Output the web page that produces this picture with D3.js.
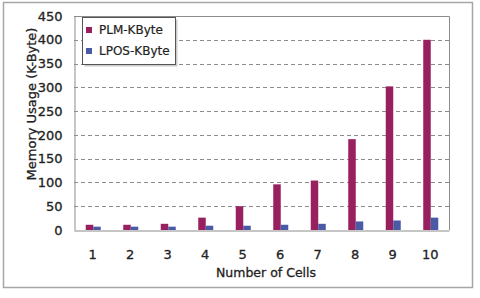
<!DOCTYPE html>
<html>
<head>
<meta charset="utf-8">
<script src="https://cdn.jsdelivr.net/npm/d3@7"></script>
<style>
  body { margin: 0; background: #fff; }
  svg text { font-family: "DejaVu Sans", sans-serif; fill: #222; }
</style>
</head>
<body>
<div id="chart"></div>
<script>
// data
var cells = ["1", "2", "3", "4", "5", "6", "7", "8", "9", "10"];
var plm  = [11, 11, 13, 26, 50, 96, 104, 191, 302, 400];
var lpos = [7, 7, 7, 9, 9, 11, 13, 18, 20, 26];
var seriesNames = ["PLM-KByte", "LPOS-KByte"];
var colors = ["#98205f", "#4a5aa5"];
var yTicks = [0, 50, 100, 150, 200, 250, 300, 350, 400, 450];

var W = 480, H = 298;
var plotL = 74, plotR = 449, plotT = 16, plotB = 230;

var svg = d3.select("#chart").append("svg")
    .attr("width", W)
    .attr("height", H);

// outer frame
svg.append("rect")
    .attr("x", 3.5).attr("y", 2.5)
    .attr("width", 469).attr("height", 285)
    .attr("fill", "#fff")
    .attr("stroke", "#a6a6a6")
    .attr("stroke-width", 1.5);

var x = d3.scaleBand().domain(cells).range([plotL, plotR]);
var y = d3.scaleLinear().domain([0, 450]).range([plotB, plotT]);

// grid
svg.append("g").selectAll("line")
    .data(yTicks.filter(function(d){ return d > 0 && d < 450; }))
    .enter().append("line")
    .attr("x1", plotL).attr("x2", plotR)
    .attr("y1", function(d){ return Math.round(y(d)) + 0.5; })
    .attr("y2", function(d){ return Math.round(y(d)) + 0.5; })
    .attr("stroke", "#8c8c8c")
    .attr("stroke-dasharray", "4,3");

// plot border (top, right)
svg.append("path")
    .attr("d", "M" + plotL + "," + (plotT + 0.5) + "H" + (plotR + 0.5) + "V" + plotB)
    .attr("fill", "none")
    .attr("stroke", "#8c8c8c");

// bars
var bw = 7.5;
var groups = [plm, lpos];
groups.forEach(function(vals, s) {
  svg.append("g").selectAll("rect")
    .data(vals)
    .enter().append("rect")
      .attr("x", function(d, i) { return x(cells[i]) + x.bandwidth() / 2 - bw + s * bw + 0.5; })
      .attr("y", function(d) { return y(d); })
      .attr("width", bw)
      .attr("height", function(d) { return y(0) - y(d); })
      .attr("fill", colors[s]);
});

// axes
var yAxis = svg.append("g")
    .attr("transform", "translate(" + (plotL + 0.5) + ",0)")
    .call(d3.axisLeft(y).tickValues(yTicks).tickSize(0).tickPadding(12));
yAxis.select(".domain").attr("stroke", "#8c8c8c");
yAxis.selectAll("text")
    .style("font-size", "13px")
    .attr("fill", "#222")
    .attr("stroke", "#222").attr("stroke-width", 0.3);

var xAxis = svg.append("g")
    .attr("transform", "translate(0," + (plotB + 0.5) + ")")
    .call(d3.axisBottom(x).tickSize(0).tickPadding(19));
xAxis.select(".domain").attr("stroke", "#8c8c8c");
xAxis.selectAll("text")
    .style("font-size", "13px")
    .attr("fill", "#222")
    .attr("stroke", "#222").attr("stroke-width", 0.3);

// axis titles
svg.append("text")
    .attr("x", 266).attr("y", 277)
    .attr("text-anchor", "middle")
    .style("font-size", "12.5px")
    .attr("stroke", "#222").attr("stroke-width", 0.3)
    .text("Number of Cells");

svg.append("text")
    .attr("transform", "translate(36,104) rotate(-90)")
    .attr("text-anchor", "middle")
    .style("font-size", "13px")
    .attr("stroke", "#222").attr("stroke-width", 0.3)
    .text("Memory Usage  (K-Byte)");

// legend
var leg = svg.append("g");
leg.append("rect")
    .attr("x", 84.5).attr("y", 19.5)
    .attr("width", 93).attr("height", 47)
    .attr("fill", "#ccc");
leg.append("rect")
    .attr("x", 82.5).attr("y", 17.5)
    .attr("width", 93).attr("height", 47)
    .attr("fill", "#fff")
    .attr("stroke", "#555");
seriesNames.forEach(function(name, i) {
  leg.append("rect")
      .attr("x", 86).attr("y", 27 + i * 21)
      .attr("width", 6).attr("height", 6)
      .attr("fill", colors[i]);
  leg.append("text")
      .attr("x", 99).attr("y", 34 + i * 21)
      .style("font-size", "12px")
      .attr("stroke", "#222").attr("stroke-width", 0.2)
      .text(name);
});
</script>
</body>
</html>
